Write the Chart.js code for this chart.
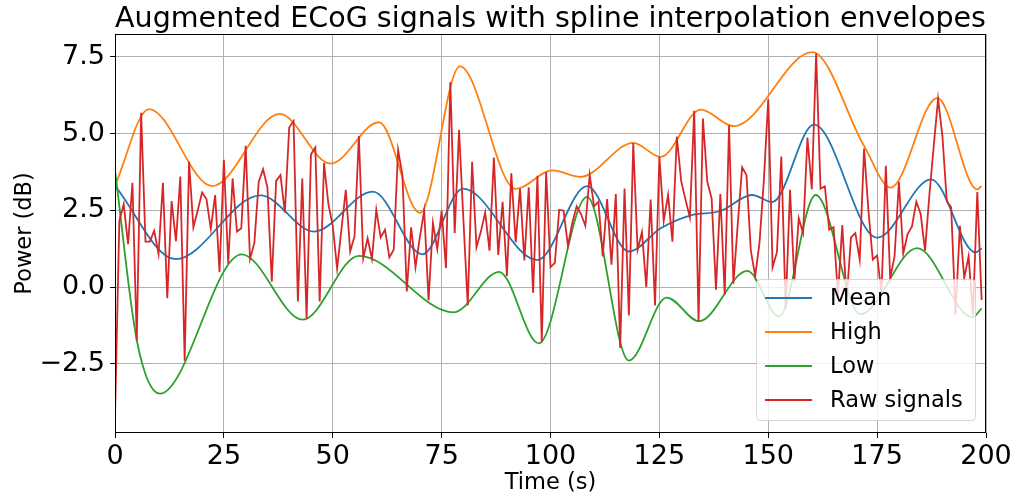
<!DOCTYPE html>
<html>
<head>
<meta charset="utf-8">
<title>Augmented ECoG signals</title>
<script src="https://cdn.jsdelivr.net/npm/chart.js@4.4.1/dist/chart.umd.min.js"></script>
<style>
  html, body { margin: 0; padding: 0; background: #fff; }
  #wrap { width: 1019px; height: 500px; }
</style>
</head>
<body>
<div id="wrap"><canvas id="ecogChart" width="1019" height="500"></canvas></div>
<script>
// raw signal, one sample per second starting at t = 0
const rawSignal = [
  -4.2, 2.16, 2.7, 1.4, 3.4, -1.73, 5.68, 1.48, 1.48, 1.84,
  1.08, 3.4, -0.36, 2.8, 1.5, 3.6, -2.4, 4.08, 1.95, 2.5,
  3.08, 2.87, 1.9, 3.0, 0.49, 4.15, 0.76, 3.54, 1.81, 1.92,
  4.6, 0.92, 1.44, 3.43, 3.84, 3.25, 0.18, 3.46, 3.65, 2.43,
  5.2, 5.41, -0.47, 3.54, -1.03, 4.33, 4.55, -0.47, 4.04, 2.7,
  2.0, 0.6, 1.9, 3.17, 1.16, 1.66, 4.92, 0.94, 1.59, 0.92,
  2.52, 1.62, 1.87, 0.97, 1.22, 4.47, 3.65, -0.14, 1.95, 0.65,
  1.62, 2.49, -0.43, 2.09, 1.24, 2.49, 0.62, 6.68, 1.76, 5.12,
  2.2, -0.6, 4.08, 1.3, 1.8, 2.43, 1.19, 4.22, 1.05, 2.78,
  0.36, 3.71, 1.46, 3.21, 0.87, 3.25, -0.18, 3.63, -1.79, 3.76,
  0.65, 0.79, 2.52, 2.49, 1.35, 2.09, 2.63, 2.38, 2.0, 3.65,
  2.63, 2.78, 1.0, 2.87, 0.73, 3.03, -1.98, 3.21, -0.92, 4.69,
  1.22, 1.79, 0.0, 2.85, -0.6, 4.25, 2.16, 3.0, 1.48, 4.9,
  3.46, 2.85, 2.27, 5.74, -1.11, 5.49, 3.43, 2.89, -0.08, 3.03,
  -0.25, 5.27, 0.11, 2.06, 3.9, 3.65, 1.19, 0.36, 1.46, 3.5,
  6.12, 0.65, 1.14, 4.25, -0.7, 3.17, 0.2, 2.24, 1.76, 4.87,
  3.19, 7.61, 3.21, 3.28, 1.87, 1.95, -0.3, 2.02, -0.4, 1.62,
  1.76, 0.9, 4.51, 2.5, 0.9, 1.03, -0.2, 3.95, 0.29, 1.0,
  3.43, 1.1, 1.73, 1.98, 2.78, 2.38, 1.19, 3.0, 4.6, 6.13,
  4.9, 2.8, 2.6, -0.9, 2.0, 0.3, 1.0, -0.9, 3.1, -0.42
];

// envelope knots (time in s, power in dB)
const meanTimes = [0, 13.9, 33.4, 45.7, 59.2, 70.6, 79.9, 97, 108.4, 118, 125.3, 132.2, 139, 146.3, 150.9, 160.5, 175, 187.4, 197.6, 199];
const meanValues = [3.3, 0.91, 2.99, 1.81, 3.11, 1.07, 3.21, 0.88, 3.29, 1.16, 1.92, 2.34, 2.48, 3.0, 2.77, 5.29, 1.61, 3.51, 1.13, 1.27];

const highTimes = [0, 7.8, 22.3, 37.8, 49.5, 60.6, 70, 79.2, 92, 100.4, 106.9, 119, 125.3, 134.5, 142.1, 160.1, 172, 178.1, 188.8, 198, 199];
const highValues = [3.3, 5.8, 3.29, 5.64, 4.02, 5.37, 2.42, 7.19, 3.2, 3.8, 3.59, 4.7, 4.24, 5.78, 5.24, 7.65, 4.6, 3.24, 6.16, 3.18, 3.29];

const lowTimes = [0, 5, 10.3, 29.1, 43.1, 56, 77.8, 88.2, 97.3, 108.4, 118, 126.7, 134.1, 145.2, 152.5, 160.9, 171.2, 184.2, 196.9, 199];
const lowValues = [3.8, -1.73, -3.47, 1.07, -1.06, 1.02, -0.82, 0.5, -1.83, 2.94, -2.39, -0.34, -1.11, 0.53, -0.95, 3.0, -0.88, 1.27, -0.98, -0.69];

const seriesNames = ["Mean", "High", "Low", "Raw signals"];
const seriesColors = ["#1f77b4", "#ff7f0e", "#2ca02c", "#d62728"];

const xTicks = [0, 25, 50, 75, 100, 125, 150, 175, 200];
const yTicks = [-2.5, 0, 2.5, 5, 7.5];

const FONT = "'DejaVu Sans', sans-serif";

function toPoints(times, values) {
  return times.map((t, i) => ({ x: t, y: values[i] }));
}

function fmtTick(v) {
  const s = Math.abs(v).toFixed(1);
  return v < 0 ? "\u2212" + s : s;
}

// matplotlib style frame + legend box in the lower right corner
const frameLegend = {
  id: "frameLegend",
  afterDraw(chart) {
    const ctx = chart.ctx;
    const a = chart.chartArea;
    ctx.save();
    ctx.strokeStyle = "#000";
    ctx.lineWidth = 1;
    ctx.strokeRect(Math.round(a.left) + 0.5, Math.round(a.top) + 0.5,
      Math.round(a.right - a.left) - 1, Math.round(a.bottom - a.top) - 1);

    const boxW = 219, boxH = 141;
    const bx = a.right - 11 - boxW;
    const by = a.bottom - 13 - boxH;
    ctx.beginPath();
    ctx.roundRect(bx + 0.5, by + 0.5, boxW, boxH, 4);
    ctx.fillStyle = "rgba(255,255,255,0.8)";
    ctx.fill();
    ctx.strokeStyle = "rgba(204,204,204,0.8)";
    ctx.stroke();

    ctx.font = "22.5px " + FONT;
    ctx.textBaseline = "middle";
    ctx.textAlign = "left";
    seriesNames.forEach((name, i) => {
      const y = by + 19 + i * 34;
      ctx.beginPath();
      ctx.moveTo(bx + 9, y);
      ctx.lineTo(bx + 56, y);
      ctx.strokeStyle = seriesColors[i];
      ctx.lineWidth = 1.8;
      ctx.stroke();
      ctx.fillStyle = "#000";
      ctx.fillText(name, bx + 74, y + 1);
    });
    ctx.restore();
  }
};

const lineStyle = (i) => ({
  label: seriesNames[i],
  borderColor: seriesColors[i],
  backgroundColor: seriesColors[i],
  borderWidth: 1.8,
  pointRadius: 0,
  fill: false
});

new Chart(document.getElementById("ecogChart"), {
  type: "line",
  data: {
    datasets: [
      Object.assign(lineStyle(0), { data: toPoints(meanTimes, meanValues), cubicInterpolationMode: "monotone", order: 4 }),
      Object.assign(lineStyle(1), { data: toPoints(highTimes, highValues), cubicInterpolationMode: "monotone", order: 3 }),
      Object.assign(lineStyle(2), { data: toPoints(lowTimes, lowValues), cubicInterpolationMode: "monotone", order: 2 }),
      Object.assign(lineStyle(3), { data: rawSignal.map((v, t) => ({ x: t, y: v })), tension: 0, order: 1 })
    ]
  },
  options: {
    responsive: false,
    animation: false,
    events: [],
    layout: { padding: { left: 0, right: 33, top: 0, bottom: 0 } },
    plugins: {
      legend: { display: false },
      tooltip: { enabled: false },
      title: {
        display: true,
        fullSize: false,
        text: "Augmented ECoG signals with spline interpolation envelopes",
        color: "#000",
        font: { family: FONT, size: 28.8, weight: "normal", lineHeight: 1 },
        padding: { top: 5, bottom: 0 }
      }
    },
    scales: {
      x: {
        type: "linear",
        min: 0,
        max: 200,
        afterBuildTicks: s => { s.ticks = xTicks.map(v => ({ value: v })); },
        afterFit: s => { s.height = 67; s.paddingLeft = 0; s.paddingRight = 0; },
        ticks: { color: "#000", font: { family: FONT, size: 27 }, padding: 3, maxRotation: 0 },
        grid: { color: "#b0b0b0", lineWidth: 1, tickColor: "#000", tickLength: 5 },
        border: { display: false },
        title: {
          display: true,
          text: "Time (s)",
          color: "#000",
          font: { family: FONT, size: 22.5 },
          padding: { top: 0, bottom: 3 }
        }
      },
      y: {
        type: "linear",
        min: -4.75,
        max: 8.25,
        afterBuildTicks: s => { s.ticks = yTicks.map(v => ({ value: v })); },
        afterFit: s => { s.width = 115; s.paddingTop = 0; s.paddingBottom = 0; },
        ticks: { color: "#000", font: { family: FONT, size: 27 }, padding: 5, callback: v => fmtTick(v) },
        grid: { color: "#b0b0b0", lineWidth: 1, tickColor: "#000", tickLength: 5 },
        border: { display: false },
        title: {
          display: true,
          text: "Power (dB)",
          color: "#000",
          font: { family: FONT, size: 22.5 },
          padding: { top: 12, bottom: 0 }
        }
      }
    }
  },
  plugins: [frameLegend]
});
</script>
</body>
</html>
